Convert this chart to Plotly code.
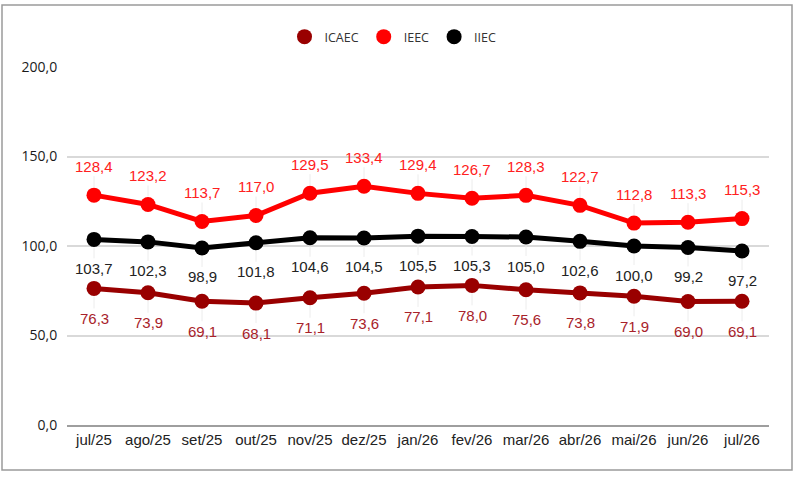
import plotly.graph_objects as go

meses = ["jul/25", "ago/25", "set/25", "out/25", "nov/25", "dez/25", "jan/26",
         "fev/26", "mar/26", "abr/26", "mai/26", "jun/26", "jul/26"]

icaec = [76.3, 73.9, 69.1, 68.1, 71.1, 73.6, 77.1, 78.0, 75.6, 73.8, 71.9, 69.0, 69.1]
ieec = [128.4, 123.2, 113.7, 117.0, 129.5, 133.4, 129.4, 126.7, 128.3, 122.7, 112.8, 113.3, 115.3]
iiec = [103.7, 102.3, 98.9, 101.8, 104.6, 104.5, 105.5, 105.3, 105.0, 102.6, 100.0, 99.2, 97.2]

y_ticks = [0, 50, 100, 150, 200]

# nome, valores, cor da linha, cor do rótulo, deslocamento do rótulo (px)
series = [
    ("ICAEC", icaec, "#990000", "#a8222a", 30),
    ("IEEC", ieec, "#ff0000", "#ff2020", -29),
    ("IIEC", iiec, "#000000", "#222222", 29),
]

fig = go.Figure()
annotations = []

for nome, vals, cor, cor_txt, dy in series:
    fig.add_trace(go.Scatter(
        x=meses, y=vals, mode="lines+markers", name=nome, showlegend=False,
        line=dict(color=cor, width=5),
        marker=dict(color=cor, size=15),
        hoverinfo="x+y",
    ))
    for m, v in zip(meses, vals):
        annotations.append(dict(
            x=m, y=v, xref="x", yref="y",
            text=f"{v:.1f}".replace(".", ","),
            showarrow=True, ax=0, ay=dy,
            arrowhead=0, arrowwidth=1, arrowcolor="#ececec", standoff=8,
            font=dict(family="Liberation Sans, Arial", size=15, color=cor_txt),
        ))

# itens da legenda (só o círculo)
for nome, vals, cor, cor_txt, dy in series:
    fig.add_trace(go.Scatter(
        x=[None], y=[None], mode="markers", name=nome,
        marker=dict(color=cor, size=15),
    ))

L, R, T, B = 67, 28, 67, 53
W, H = 797, 478
pw, ph = W - L - R, H - T - B

fig.update_layout(
    width=W, height=H,
    margin=dict(l=L, r=R, t=T, b=B),
    paper_bgcolor="white", plot_bgcolor="white",
    separators=",.",
    annotations=annotations,
    legend=dict(orientation="h", x=(393 - L) / pw, xanchor="center",
                y=(H - B - 37) / ph, yanchor="middle",
                font=dict(family="Open Sans", size=12.5, color="#333333"),
                itemclick=False, itemdoubleclick=False),
    shapes=[dict(type="rect", xref="paper", yref="paper",
                 x0=(2 - L) / pw, x1=(792 - L) / pw,
                 y0=(H - B - 470) / ph, y1=(H - B - 5) / ph,
                 line=dict(color="#9a9a9a", width=1.5), fillcolor="rgba(0,0,0,0)",
                 layer="below")],
)

fig.update_xaxes(
    range=[-0.5, len(meses) - 0.5], showgrid=False,
    showline=True, linecolor="#9e9e9e", linewidth=2,
    ticks="", tickfont=dict(family="Liberation Sans, Arial", size=15, color="#222222"),
)
fig.update_yaxes(
    range=[0, 200], tickvals=y_ticks,
    ticktext=[f"{t:.1f}".replace(".", ",") for t in y_ticks],
    showgrid=True, gridcolor="#d9d9d9", gridwidth=1.5, zeroline=False,
    ticks="outside", ticklen=6, tickcolor="rgba(0,0,0,0)",
    tickfont=dict(family="Open Sans", size=14, color="#1a1a1a"),
)

fig.write_html("out.html", config={"displayModeBar": False},
               post_script="document.body.style.margin='0';")
